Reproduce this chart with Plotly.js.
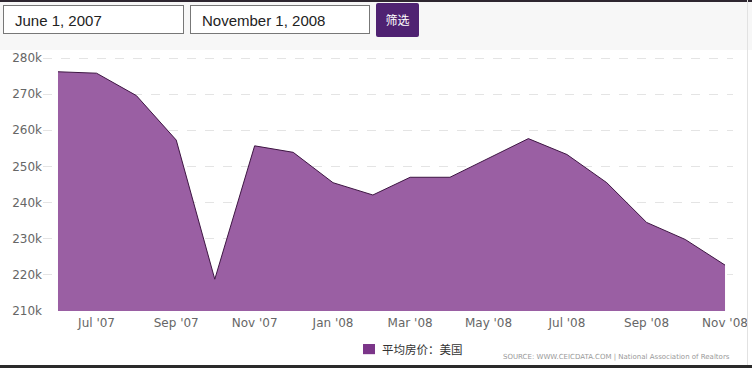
<!DOCTYPE html>
<html><head><meta charset="utf-8">
<script src="https://cdn.plot.ly/plotly-3.0.1.min.js"></script>
<style>
html,body{margin:0;padding:0;width:752px;height:368px;overflow:hidden;background:#fff;}
#chart{position:absolute;left:0;top:0;width:752px;height:368px;}
#topbar{position:absolute;left:0;top:0;width:752px;height:50px;background:#f7f7f7;}
#topline{position:absolute;left:0;top:0;width:752px;height:2px;background:#2e2630;}
#botline{position:absolute;left:0;top:365px;width:752px;height:3px;background:#2a2a2a;}
#rightline{position:absolute;left:747px;top:0;width:1px;height:368px;background:#e2e2e2;}
.box{position:absolute;top:5px;height:29px;border:1px solid #777;background:#fff;font-family:'Liberation Sans',Arial,sans-serif;font-size:15px;color:#222;line-height:29px;padding-left:11px;box-sizing:border-box;}
#btn{position:absolute;left:376px;top:3px;width:43px;height:34px;background:#4f2272;color:#fff;font-family:'Noto Sans CJK SC',sans-serif;font-size:12px;line-height:34px;text-align:center;border-radius:2px;}
</style>
</head><body>
<div id="chart"></div>
<div id="topbar"></div>
<div id="topline"></div>
<div class="box" style="left:3px;width:181px;">June 1, 2007</div>
<div class="box" style="left:190px;width:180px;">November 1, 2008</div>
<div id="btn">筛选</div>
<div id="rightline"></div>
<div id="botline"></div>
<script>
const seriesName = '平均房价：美国';
const months = ['2007-06-01','2007-07-01','2007-08-01','2007-09-01','2007-10-01','2007-11-01','2007-12-01',
  '2008-01-01','2008-02-01','2008-03-01','2008-04-01','2008-05-01','2008-06-01','2008-07-01','2008-08-01',
  '2008-09-01','2008-10-01','2008-11-01'];
const avgPrice = [276200,275800,269600,257300,218800,255700,253900,245500,242100,247000,247000,252300,
  257700,253300,245500,234500,229800,222700];
const xTickVals = ['2007-07-01','2007-09-01','2007-11-01','2008-01-01','2008-03-01','2008-05-01','2008-07-01','2008-09-01','2008-11-01'];
const xTickText = ["Jul '07","Sep '07","Nov '07","Jan '08","Mar '08","May '08","Jul '08","Sep '08","Nov '08"];
const yTickVals = [210000,220000,230000,240000,250000,260000,270000,280000];
const yTickText = ['210k','220k','230k','240k','250k','260k','270k','280k'];
const sourceText = 'SOURCE: WWW.CEICDATA.COM | National Association of Realtors';

const traces = [
  {type:'scatter', mode:'lines', x:months, y:avgPrice, name:seriesName, fill:'tozeroy',
   fillcolor:'#9a5fa3', line:{color:'#3e1643', width:1}, showlegend:false, hoverinfo:'x+y'}
];
const layout = {
  width:752, height:368,
  margin:{l:43, r:19, t:57, b:57},
  paper_bgcolor:'#ffffff', plot_bgcolor:'#ffffff',
  font:{family:'DejaVu Sans, sans-serif', size:12, color:'#666'},
  xaxis:{type:'date', range:['2007-05-20 08:00','2008-11-07 05:00'], tickvals:xTickVals, ticktext:xTickText,
    showgrid:false, zeroline:false, showline:false, ticks:'', ticklabelstandoff:3, tickfont:{size:12, color:'#666'}},
  yaxis:{range:[210000,280280], tickvals:yTickVals, ticktext:yTickText, showgrid:true, gridcolor:'#e4e4e4',
    griddash:'dash', gridwidth:1, zeroline:false, showline:false, ticks:'', tickfont:{size:12, color:'#666'}},
  showlegend:false,
  shapes:[{type:'rect', xref:'paper', yref:'paper', x0:0.4638, x1:0.4812, y0:-0.170, y1:-0.130,
    fillcolor:'#7b3589', line:{width:0}}],
  annotations:[
    {text:seriesName, xref:'paper', yref:'paper', x:0.4884, y:-0.150, xanchor:'left', yanchor:'middle',
     showarrow:false, font:{family:'Noto Sans CJK SC, sans-serif', size:11.5, color:'#333'}},
    {text:sourceText, xref:'paper', yref:'paper', x:0.9986, y:-0.182, xanchor:'right', yanchor:'middle',
     showarrow:false, font:{family:'DejaVu Sans, sans-serif', size:7, color:'#999'}}]
};
Plotly.newPlot('chart', traces, layout, {displayModeBar:false, staticPlot:true});
</script>
</body></html>
